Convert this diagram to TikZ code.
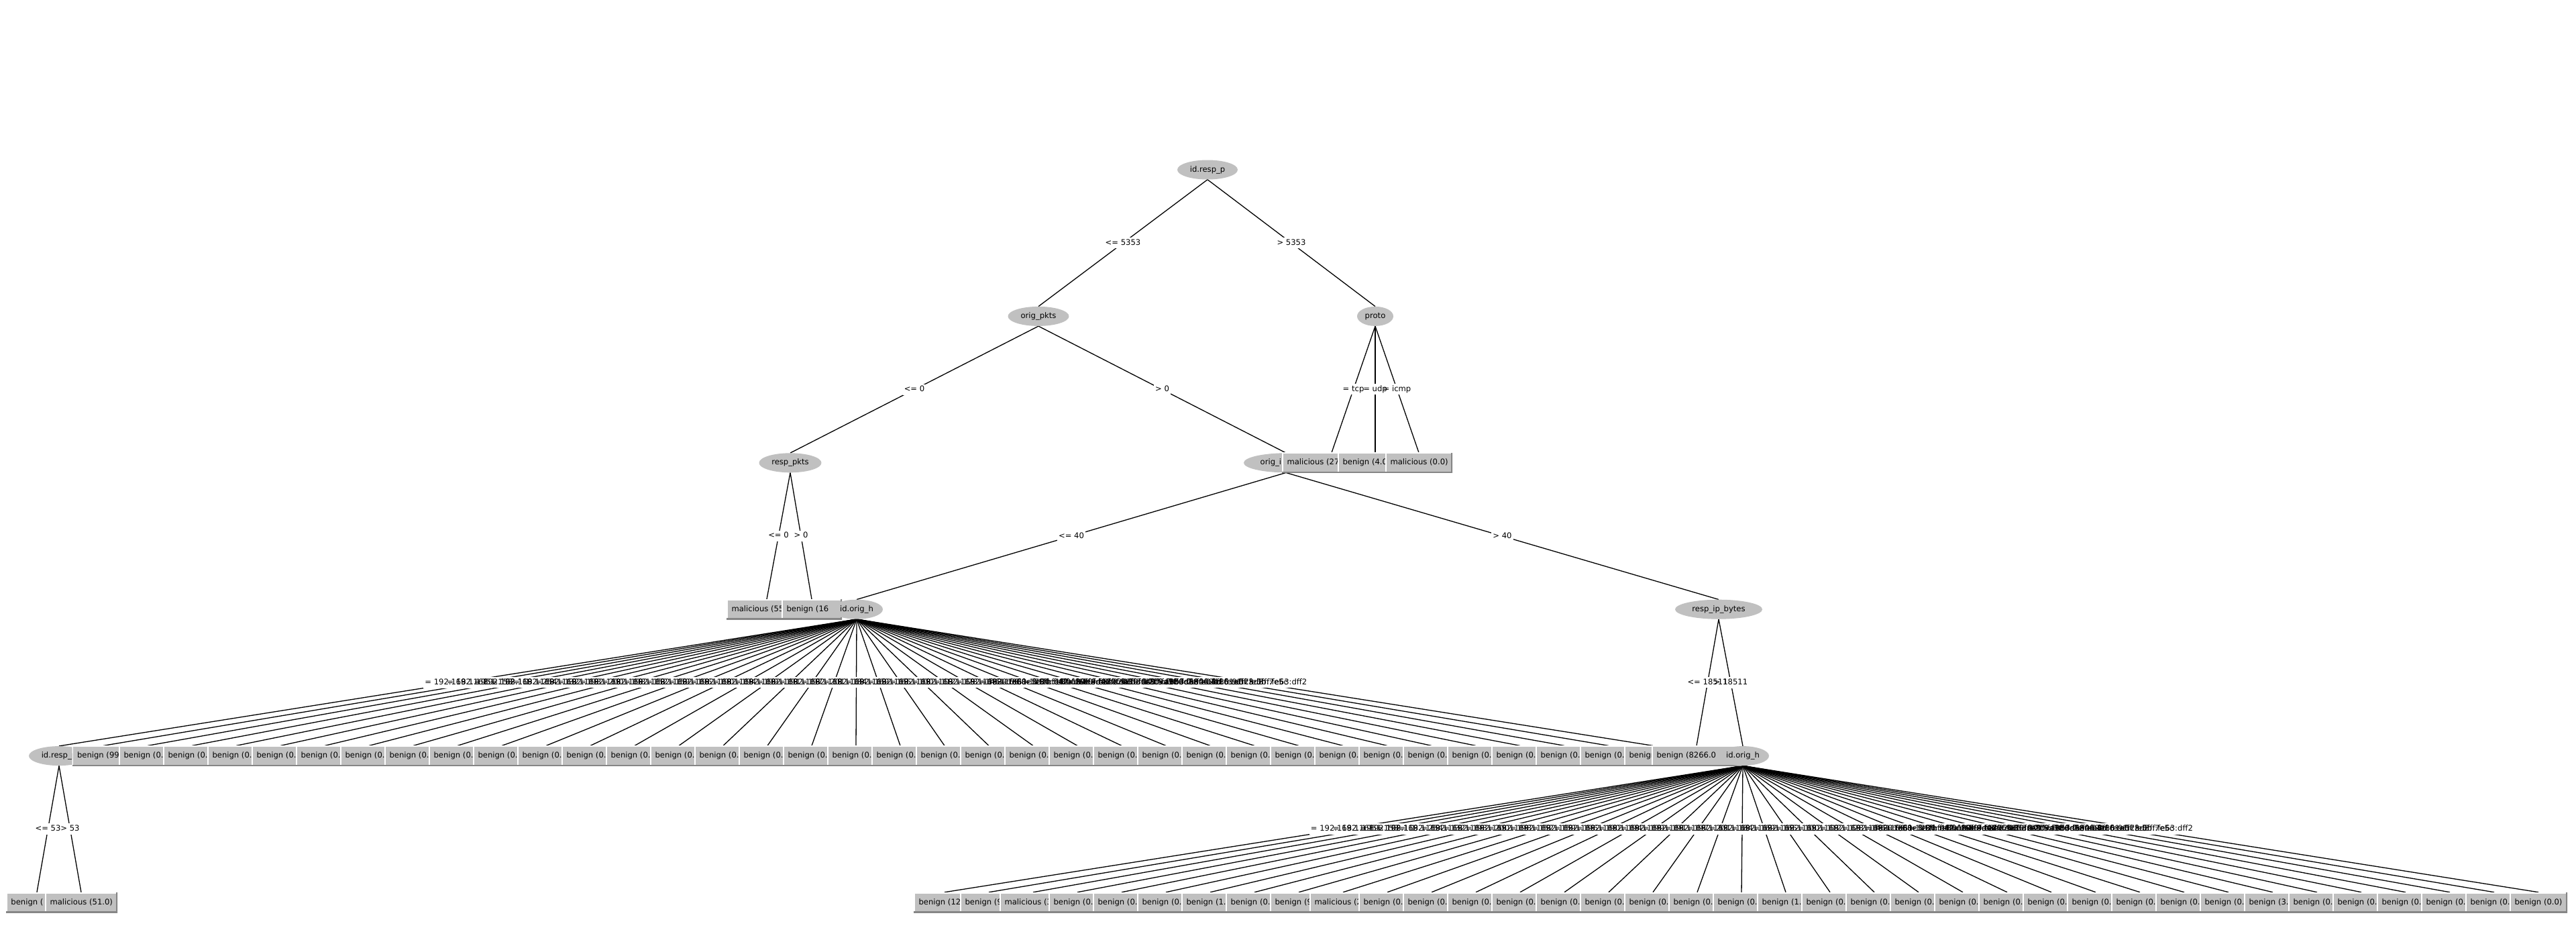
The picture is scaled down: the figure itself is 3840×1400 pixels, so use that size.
\documentclass[tikz,border=0pt]{standalone}
\usepackage{fontspec}
\setmainfont{DejaVu Sans}
\usetikzlibrary{shapes.geometric,calc}
\definecolor{lgray}{RGB}{192,192,192}
\definecolor{dgray}{RGB}{134,134,134}
\pgfdeclarelayer{bg}
\pgfdeclarelayer{edges}
\pgfdeclarelayer{labelbg}
\pgfdeclarelayer{labeltxt}
\pgfsetlayers{bg,edges,labelbg,labeltxt,main}
\newcommand\leafnode[5]{\node[leafbox,minimum width=#4pt] (#1) at (#2,#3) {\makebox[#4pt][l]{\hspace{7.5pt}#5}};}
\newcommand\edgelab[4]{%
 \begin{pgfonlayer}{edges}\draw[edgeline] (#1.south) -- (#2.north);\end{pgfonlayer}%
 \begin{pgfonlayer}{labelbg}\node[lbg] (#3bg) at ($(#1.south)!0.5!(#2.north)$) {\phantom{#4}};\end{pgfonlayer}%
 \begin{pgfonlayer}{labeltxt}\node[ltxt] (#3) at ($(#1.south)!0.5!(#2.north)$) {#4};\end{pgfonlayer}}
\def\iplist{= 192.168.1.195, = 192.168.1.158, = 192.168.1.1, = 192.168.1.254, = 192.168.1.132, = 192.168.1.193, = 192.168.1.200, = 192.168.1.198, = 192.168.1.152, = 192.168.1.159, = 192.168.1.196, = 192.168.1.190, = 192.168.1.194, = 192.168.1.199, = 192.168.1.191, = 192.168.1.197, = 192.168.1.201, = 192.168.1.184, = 192.168.1.169, = 192.168.1.165, = 192.168.1.100, = 192.168.1.112, = 192.168.1.128, = 192.168.1.146, = 192.168.1.186, = 192.168.1.179, = fe80::c68e:a1ff:fe82:1b4, = fe80::3a2b:c4ff:fe1e:9d07, = fe80::1f2a:29ff:fe4a:c2b6, = fe80::92e6:baff:fe11:30c9, = fe80::b8e8:56ff:fe40:9a1c, = fe80::4c5d:12ff:fe9f:6d2e, = fe80::d2c5:f3ff:fe58:e04b, = fe80::a8b3:2cff:fe7d:51a0, = fe80::6e40:8ff:fe91:c3d8, = fe80::2a16:adff:fe0b:7e5c, = fe80::e57a:5fff:fe63:dff2}
\begin{document}
\begin{tikzpicture}[x=1pt,y=-1pt,
  every node/.style={font=\fontsize{11.6}{14}\selectfont, text height=8.6pt, text depth=2.6pt},
  inode/.style={ellipse, fill=lgray, inner sep=0pt, minimum height=29pt},
  leafbox/.style={rectangle, fill=lgray, inner sep=0pt, minimum height=30pt,
    path picture={
      \draw[white,line width=3pt] (path picture bounding box.south west) -- (path picture bounding box.north west) -- (path picture bounding box.north east);
      \draw[dgray,line width=4pt] (path picture bounding box.south west) -- (path picture bounding box.south east) -- (path picture bounding box.north east);}},
  lbg/.style={fill=white, inner xsep=2pt, inner ysep=2.5pt},
  ltxt/.style={inner xsep=2pt, inner ysep=2.5pt},
  edgeline/.style={line width=1.3pt, black}]
\begin{pgfonlayer}{bg}
\fill[white] (0,0) rectangle (3840,1400);
\end{pgfonlayer}
\useasboundingbox (0,0) rectangle (3840,1400);
% nodes in preorder
\node[inode, minimum width=90pt] (n0) at (1800,253) {id.resp\_p};
\node[inode, minimum width=91pt] (n1) at (1548,471.4) {orig\_pkts};
\node[inode, minimum width=93pt] (n2) at (1178,689.8) {resp\_pkts};
\leafnode{n2a}{1143}{908.2}{120}{malicious (55}
\leafnode{n2b}{1210}{908.2}{90}{benign (16}
\node[inode, minimum width=126pt] (n3) at (1917,689.8) {orig\_ip\_bytes};
\node[inode, minimum width=78pt] (h1) at (1277,908.2) {id.orig\_h};
\node[inode, minimum width=90pt] (a0) at (88,1126.6) {id.resp\_p};
\leafnode{a0a}{55}{1345}{92}{benign (}
\leafnode{a0b}{121}{1345}{108}{malicious (51.0)}
\leafnode{a1}{154}{1126.6}{93}{benign (99.0)}
\foreach \k in {2,...,36}{\leafnode{a\k}{88+66*\k}{1126.6}{86}{benign (0.0)}}
\node[inode, minimum width=130pt] (r1) at (2562,908.2) {resp\_ip\_bytes};
\leafnode{r1a}{2529}{1126.6}{134}{benign (8266.0}
\node[inode, minimum width=78pt] (h2) at (2598,1126.6) {id.orig\_h};
\foreach \w/\t [count=\k from 0] in {92/benign (12.0), 86/benign (9.0), 100/malicious (3.0), 86/benign (0.0), 86/benign (0.0), 86/benign (0.0), 86/benign (1.0), 86/benign (0.0), 86/benign (9.0), 100/malicious (2.0), 86/benign (0.0), 86/benign (0.0), 86/benign (0.0), 86/benign (0.0), 86/benign (0.0), 86/benign (0.0), 86/benign (0.0), 86/benign (0.0), 86/benign (0.0), 86/benign (1.0), 86/benign (0.0), 86/benign (0.0), 86/benign (0.0), 86/benign (0.0), 86/benign (0.0), 86/benign (0.0), 86/benign (0.0), 86/benign (0.0), 86/benign (0.0), 86/benign (0.0), 86/benign (3.0), 86/benign (0.0), 86/benign (0.0), 86/benign (0.0), 86/benign (0.0), 86/benign (0.0), 86/benign (0.0)}{\leafnode{b\k}{1408+66*\k}{1345}{\w}{\t}}
\node[inode, minimum width=54pt] (p) at (2050,471.4) {proto};
\leafnode{pa}{1985}{689.8}{148}{malicious (27}
\leafnode{pb}{2050}{689.8}{112}{benign (4.0}
\leafnode{pc}{2115}{689.8}{100}{malicious (0.0)}
% edges with labels
\edgelab{n0}{n1}{e01}{<= 5353}
\edgelab{n0}{p}{e0p}{> 5353}
\edgelab{n1}{n2}{e12}{<= 0}
\edgelab{n1}{n3}{e13}{> 0}
\edgelab{n2}{n2a}{e2a}{<= 0}
\edgelab{n2}{n2b}{e2b}{> 0}
\edgelab{n3}{h1}{e3h}{<= 40}
\edgelab{n3}{r1}{e3r}{> 40}
\foreach \t [count=\k from 0] in \iplist {\edgelab{h1}{a\k}{ea\k}{\t}}
\edgelab{a0}{a0a}{ea0a}{<= 53}
\edgelab{a0}{a0b}{ea0b}{> 53}
\edgelab{r1}{r1a}{er1a}{<= 18511}
\edgelab{r1}{h2}{er1h}{> 18511}
\foreach \t [count=\k from 0] in \iplist {\edgelab{h2}{b\k}{eb\k}{\t}}
\edgelab{p}{pa}{epa}{= tcp}
\edgelab{p}{pb}{epb}{= udp}
\edgelab{p}{pc}{epc}{= icmp}
\end{tikzpicture}
\end{document}
